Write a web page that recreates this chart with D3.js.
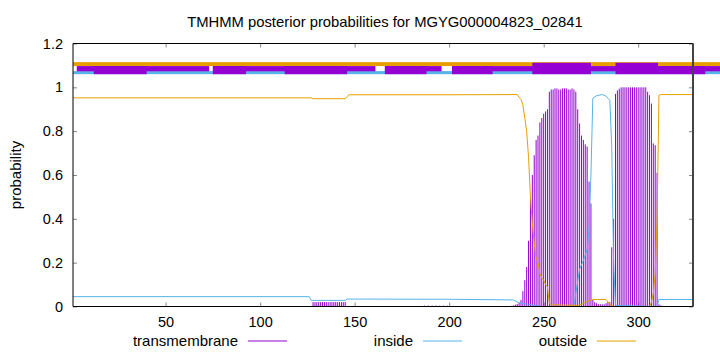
<!DOCTYPE html>
<html>
<head>
<meta charset="utf-8">
<script src="https://cdn.jsdelivr.net/npm/d3@7/dist/d3.min.js"></script>
<style>
  body { margin: 0; background: #fff; }
  svg { font-family: "Liberation Sans", Arial, sans-serif; }
</style>
</head>
<body>
<div id="chart"></div>
<script>
// title and axis
const title = "TMHMM posterior probabilities for MGYG000004823_02841"
const seqLength = 329
const xTicks = [50, 100, 150, 200, 250, 300]
const yTicks = [0, 0.2, 0.4, 0.6, 0.8, 1, 1.2]
const yTickLabels = ["0", "0.2", "0.4", "0.6", "0.8", "1", "1.2"]
const legendNames = ["transmembrane", "inside", "outside"]

// inside / outside posterior curves, [position, probability]
const inside = [
  [1, 0.045], [126, 0.045], [127, 0.028], [145, 0.028], [146, 0.034], [200, 0.033],
  [234, 0.03], [237, 0.017], [242, 0.01], [245, 0.004], [250, 0], [266, 0],
  [267, 0.06], [269, 0.17], [271, 0.21], [273, 0.26], [274, 0.35], [275, 0.6],
  [276, 0.95], [278, 0.962], [281, 0.967], [283, 0.96], [284, 0.95], [285, 0.94],
  [286, 0.73], [287, 0.2], [288, 0.005], [310, 0], [311, 0.032], [329, 0.032]
]
const outside = [
  [1, 0.952], [127, 0.952], [128, 0.948], [145, 0.948], [146, 0.958], [147, 0.966],
  [200, 0.966], [236, 0.967], [237, 0.955], [238, 0.945], [239, 0.92], [240, 0.86],
  [241, 0.8], [242, 0.68], [243, 0.5], [244, 0.38], [245, 0.29], [246, 0.22],
  [247, 0.2], [248, 0.15], [249, 0.13], [250, 0.12], [251, 0.1], [252, 0.09],
  [253, 0.015], [254, 0.008], [268, 0.005], [270, 0.01], [273, 0.024], [276, 0.032],
  [283, 0.032], [285, 0.01], [287, 0], [306, 0], [307, 0.02], [308, 0.06],
  [309, 0.15], [310, 0.4], [311, 0.964], [312, 0.967], [329, 0.967]
]

// transmembrane probability per residue (impulses), [position, probability]
const tmLow = [
  [128, 0.02], [129, 0.02], [130, 0.02], [131, 0.02], [132, 0.02], [133, 0.02],
  [134, 0.02], [135, 0.02], [136, 0.02], [137, 0.02], [138, 0.02], [139, 0.02],
  [140, 0.02], [141, 0.02], [142, 0.02], [143, 0.02], [144, 0.02], [145, 0.02],
  [187, 0.004], [189, 0.004], [191, 0.004], [193, 0.004], [195, 0.004], [197, 0.004], [199, 0.004],
  [233, 0.003], [234, 0.005], [235, 0.008], [236, 0.012]
]
const tmHelix1 = [
  [237, 0.017], [238, 0.03], [239, 0.07], [240, 0.12], [241, 0.18], [242, 0.3],
  [243, 0.49], [244, 0.6], [245, 0.69], [246, 0.76], [247, 0.78], [248, 0.84],
  [249, 0.86], [250, 0.88], [251, 0.89], [252, 0.9], [253, 0.98], [254, 0.99],
  [255, 0.99], [256, 0.995], [257, 0.995], [258, 0.99], [259, 0.99], [260, 0.995],
  [261, 0.995], [262, 0.995], [263, 0.99], [264, 0.99], [265, 0.995], [266, 0.99],
  [267, 0.98], [268, 0.9], [269, 0.835], [270, 0.78], [271, 0.76], [272, 0.74],
  [273, 0.73], [274, 0.57], [275, 0.47], [276, 0.03], [277, 0.02], [278, 0.015],
  [279, 0.01], [280, 0.01], [281, 0.01], [282, 0.01], [283, 0.015], [284, 0.02], [285, 0.02]
]
const tmHelix2 = [
  [286, 0.27], [287, 0.4], [288, 0.97], [289, 0.986], [290, 0.994], [291, 1],
  [292, 1], [293, 1], [294, 1], [295, 1], [296, 1], [297, 1], [298, 1], [299, 1],
  [300, 1], [301, 1], [302, 1], [303, 1], [304, 1], [305, 0.98], [306, 0.964],
  [307, 0.926], [308, 0.744], [309, 0.736], [310, 0.61], [311, 0.01], [312, 0.005]
]

// topology bars above the curves, [start, end] in residues
const outsideBar = [[1, 343.3]]
const insideBar = [[1, 343.3]]
const tmThinBar = [[3, 73], [75, 161], [166, 196], [201.5, 343.3]]
const tmThickBar = [[12, 40], [75, 92.5], [113, 146], [166, 188], [201.5, 223], [310.5, 335.5]]
const tmHelixBar = [[244, 275], [288, 310.5]]

const colors = {tm: "#9400d3", inside: "#56b4e9", outside: "#e69f00"}

const width = 720, height = 352
const plot = {left: 73, right: 693, top: 43.5, bottom: 306.5}

const xScale = d3.scaleLinear()
            .domain([1, seqLength])
            .range([plot.left, plot.right])
const yScale = d3.scaleLinear()
            .domain([0, 1.2])
            .range([plot.bottom, plot.top])

const svg = d3.select('#chart')
            .append('svg')
                .attr('width', width)
                .attr('height', height)
                .attr('viewBox', `0 0 ${width} ${height}`)

svg.append('defs').append('clipPath').attr('id', 'plotclip')
    .append('rect')
        .attr('x', plot.left).attr('y', plot.top)
        .attr('width', plot.right - plot.left).attr('height', plot.bottom - plot.top)

// ticks (gnuplot style: inward, mirrored)
const tickColor = "#888"
const bottomAxis = svg.append('g')
    .attr('transform', `translate(0,${plot.bottom})`)
    .call(d3.axisBottom(xScale).tickValues(xTicks).tickSize(-4).tickPadding(10).tickFormat(d => d))
const topAxis = svg.append('g')
    .attr('transform', `translate(0,${plot.top})`)
    .call(d3.axisTop(xScale).tickValues(xTicks).tickSize(-4).tickFormat(''))
const leftAxis = svg.append('g')
    .attr('transform', `translate(${plot.left},0)`)
    .call(d3.axisLeft(yScale).tickValues(yTicks).tickSize(-4).tickPadding(10)
        .tickFormat((d, i) => yTickLabels[i]))
const rightAxis = svg.append('g')
    .attr('transform', `translate(${plot.right},0)`)
    .call(d3.axisRight(yScale).tickValues(yTicks).tickSize(-4).tickFormat(''))

for (const ax of [bottomAxis, topAxis, leftAxis, rightAxis]) {
    ax.select('.domain').remove()
    ax.selectAll('line').attr('stroke', tickColor)
    ax.selectAll('text').attr('font-size', 14.5).attr('fill', '#000')
        .attr('font-family', '"Liberation Sans", Arial, sans-serif')
}

const g = svg.append('g').attr('clip-path', 'url(#plotclip)')

// impulses
const tmAll = tmLow.concat(tmHelix1, tmHelix2)
g.selectAll('line.tm')
    .data(tmAll)
    .join('line')
        .attr('class', 'tm')
        .attr('x1', d => xScale(d[0]))
        .attr('x2', d => xScale(d[0]))
        .attr('y1', yScale(0))
        .attr('y2', d => yScale(d[1]))
        .attr('stroke', colors.tm)
        .attr('stroke-width', 1)

const line = d3.line().x(d => xScale(d[0])).y(d => yScale(d[1]))

g.append('path').datum(inside)
    .attr('d', line).attr('fill', 'none')
    .attr('stroke', colors.inside).attr('stroke-width', 1)
g.append('path').datum(outside)
    .attr('d', line).attr('fill', 'none')
    .attr('stroke', colors.outside).attr('stroke-width', 1)

// topology bars (not clipped, they run past the frame)
function bars (data, top, bottom, color) {
    svg.append('g').selectAll('rect')
        .data(data)
        .join('rect')
            .attr('x', d => xScale(d[0]))
            .attr('width', d => xScale(d[1]) - xScale(d[0]))
            .attr('y', yScale(top))
            .attr('height', yScale(bottom) - yScale(top))
            .attr('fill', color)
}
bars(outsideBar, 1.115, 1.097, colors.outside)
bars(insideBar, 1.074, 1.06, colors.inside)
bars(tmThinBar, 1.097, 1.073, colors.tm)
bars(tmThickBar, 1.097, 1.06, colors.tm)
bars(tmHelixBar, 1.112, 1.06, colors.tm)

// frame
svg.append('path')
    .attr('d', `M${plot.left},${plot.top}H${plot.right}V${plot.bottom}H${plot.left}Z`)
    .attr('fill', 'none').attr('stroke', '#000').attr('stroke-width', 1)
svg.append('line')
    .attr('x1', plot.right).attr('x2', plot.right)
    .attr('y1', plot.top).attr('y2', plot.bottom)
    .attr('stroke', '#444').attr('stroke-width', 2)

// title and axis label
svg.append('text')
    .attr('x', 385).attr('y', 27)
    .attr('text-anchor', 'middle').attr('font-size', 14.8)
    .text(title)
svg.append('text')
    .attr('transform', `translate(21,${(plot.top + plot.bottom) / 2}) rotate(-90)`)
    .attr('text-anchor', 'middle').attr('font-size', 15)
    .text('probability')

// legend
const legendX = [238, 413, 587]
const legendColors = [colors.tm, colors.inside, colors.outside]
const legend = svg.append('g')
legend.selectAll('text')
    .data(legendNames)
    .join('text')
        .attr('x', (d, i) => legendX[i])
        .attr('y', 346)
        .attr('text-anchor', 'end')
        .attr('font-size', 15)
        .text(d => d)
legend.selectAll('line')
    .data(legendNames)
    .join('line')
        .attr('x1', (d, i) => legendX[i] + 10)
        .attr('x2', (d, i) => legendX[i] + 49)
        .attr('y1', 341).attr('y2', 341)
        .attr('stroke', (d, i) => legendColors[i])
        .attr('stroke-width', 1)
</script>
</body>
</html>
